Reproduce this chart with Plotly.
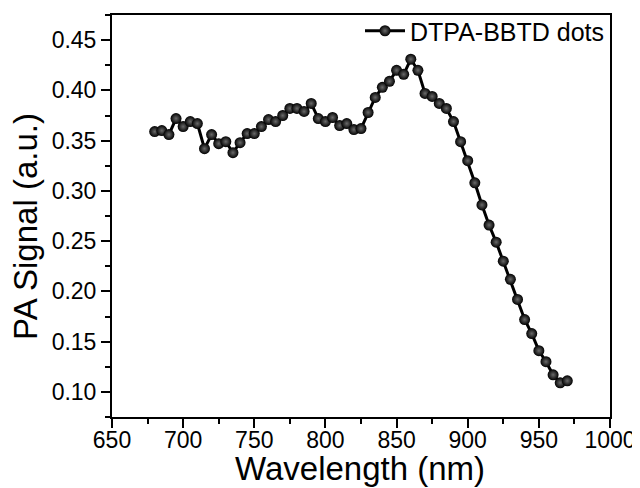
import plotly.graph_objects as go

wavelength = list(range(680, 975, 5))
pa_signal = [0.359, 0.360, 0.356, 0.372, 0.364, 0.369, 0.367, 0.342, 0.356, 0.347,
             0.349, 0.338, 0.348, 0.357, 0.357, 0.364, 0.371, 0.369, 0.375, 0.382,
             0.382, 0.379, 0.387, 0.372, 0.369, 0.373, 0.365, 0.367, 0.361, 0.362,
             0.378, 0.393, 0.403, 0.409, 0.420, 0.416, 0.431, 0.420, 0.397, 0.394,
             0.387, 0.382, 0.369, 0.349, 0.330, 0.308, 0.286, 0.266, 0.249, 0.230,
             0.212, 0.192, 0.172, 0.158, 0.141, 0.130, 0.117, 0.109, 0.111]
series_name = "DTPA-BBTD dots"
x_title = "Wavelength (nm)"
y_title = "PA Signal (a.u.)"
x_ticks = [650, 700, 750, 800, 850, 900, 950, 1000]
y_ticks = [0.10, 0.15, 0.20, 0.25, 0.30, 0.35, 0.40, 0.45]

FONT = "Arial, Liberation Sans, sans-serif"

fig = go.Figure()
fig.add_trace(go.Scatter(
    x=wavelength, y=pa_signal, mode="lines+markers", name=series_name,
    line=dict(color="black", width=3),
    marker=dict(size=11, color="black",
                gradient=dict(type="radial", color="#6a6a6a"),
                line=dict(width=0)),
))

axis_common = dict(
    showline=True, linecolor="black", linewidth=2, mirror=True,
    ticks="outside", ticklen=9, tickwidth=2, tickcolor="black",
    showgrid=False, zeroline=False, automargin=False,
    tickfont=dict(family=FONT, size=23, color="black"),
)

fig.update_layout(
    width=640, height=488,
    margin=dict(l=104, r=38, t=7, b=79, autoexpand=False),
    plot_bgcolor="white", paper_bgcolor="white",
    showlegend=True,
    legend=dict(x=1.0, y=1.0, xanchor="right", yanchor="top",
                xref="paper", yref="container",
                bgcolor="rgba(0,0,0,0)", borderwidth=0,
                font=dict(family=FONT, size=25, color="black"),
                itemwidth=40, tracegroupgap=0),
    xaxis=dict(range=[650, 1000], tickvals=x_ticks, ticklabelstandoff=-8,
               minor=dict(dtick=25, ticks="outside", ticklen=5, tickwidth=2, tickcolor="black"),
               **axis_common),
    yaxis=dict(range=[0.075, 0.475], tickvals=y_ticks, tickformat=".2f",
               minor=dict(dtick=0.025, tick0=0.1, ticks="outside", ticklen=5, tickwidth=2, tickcolor="black"),
               **axis_common),
    annotations=[
        dict(text=x_title, xref="paper", yref="paper", x=0.498, y=-0.128,
             xanchor="center", yanchor="middle", showarrow=False,
             font=dict(family=FONT, size=33, color="black")),
        dict(text=y_title, xref="paper", yref="paper", x=-0.175, y=0.475,
             xanchor="center", yanchor="middle", showarrow=False, textangle=-90,
             font=dict(family=FONT, size=33, color="black")),
    ],
)

fig.write_html("out.html")
